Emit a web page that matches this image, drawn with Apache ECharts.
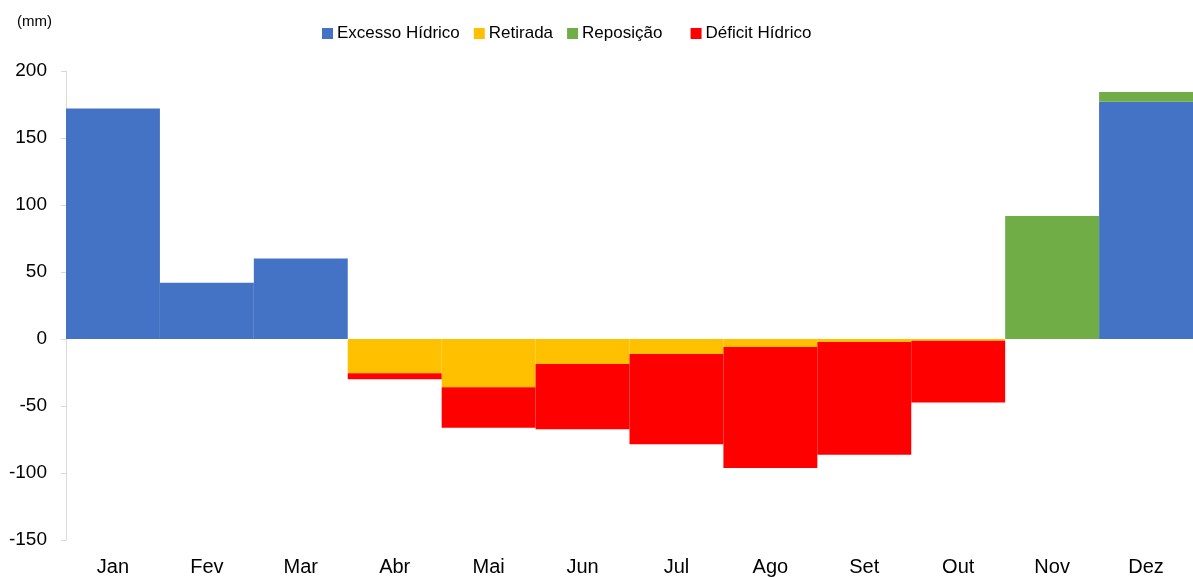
<!DOCTYPE html>
<html>
<head>
<meta charset="UTF-8">
<title>Balanço hídrico</title>
<script src="https://cdn.jsdelivr.net/npm/echarts@6/dist/echarts.min.js"></script>
<style>
html, body { margin: 0; padding: 0; background: #fff; }
#container { width: 1193px; height: 577px; }
</style>
</head>
<body>
	<div id="container"></div>
	<script type="text/javascript">
	// meses
	var months = ['Jan', 'Fev', 'Mar', 'Abr', 'Mai', 'Jun', 'Jul', 'Ago', 'Set', 'Out', 'Nov', 'Dez'];
	// valores em mm
	var excesso   = [172, 42, 60, 0, 0, 0, 0, 0, 0, 0, 0, 177];
	var retirada  = [0, 0, 0, -25.6, -36, -18.7, -11.2, -6, -2.2, -1.3, 0, 0];
	var reposicao = [0, 0, 0, 0, 0, 0, 0, 0, 0, 0, 91.8, 7.3];
	var deficit   = [0, 0, 0, -4.4, -30.2, -48.7, -67.4, -90.3, -84.1, -46, 0, 0];
	var yTicks = [-150, -100, -50, 0, 50, 100, 150, 200];

	var font = '"Liberation Sans", Arial, sans-serif';
	var dom = document.getElementById("container");
	var myChart = echarts.init(dom);

	function bar(name, data, color) {
		return {
			name: name,
			type: 'bar',
			stack: 'total',
			barWidth: '100%',
			barCategoryGap: 0,
			itemStyle: { color: color },
			data: data.map(function (v) { return v === 0 ? '-' : v; })
		};
	}

	var option = {
		animation: false,
		textStyle: { fontFamily: font },
		legend: {
			top: 25,
			left: 322,
			padding: 0,
			itemWidth: 11,
			itemHeight: 11,
			itemGap: 14,
			icon: 'rect',
			formatter: function (name) {
				// espaço extra antes do Déficit, como no original
				return name === 'Reposição' ? name + '   ' : name;
			},
			textStyle: { fontSize: 17, color: '#000', fontFamily: font, padding: [0, 0, 0, -1] },
			data: ['Excesso Hídrico', 'Retirada', 'Reposição', 'Déficit Hídrico']
		},
		grid: { left: 66, right: 0, top: 71, bottom: 37, containLabel: false },
		xAxis: {
			type: 'category',
			data: months,
			axisLine: { show: false },
			axisTick: { show: false },
			axisLabel: { fontSize: 20, color: '#000', margin: 17, fontFamily: font }
		},
		yAxis: {
			type: 'value',
			min: yTicks[0],
			max: yTicks[yTicks.length - 1],
			interval: 50,
			name: '(mm)',
			nameLocation: 'end',
			nameGap: 42,
			nameTextStyle: { fontSize: 15, color: '#000', align: 'right', padding: [0, 14, 0, 0], fontFamily: font },
			axisLine: { show: true, lineStyle: { color: '#d9d9d9', width: 1 } },
			axisTick: { show: true, length: 5, lineStyle: { color: '#d9d9d9' } },
			splitLine: { show: false },
			axisLabel: { fontSize: 19, color: '#000', margin: 19, fontFamily: font }
		},
		series: [
			bar('Excesso Hídrico', excesso, '#4472C4'),
			bar('Retirada', retirada, '#FFC000'),
			bar('Reposição', reposicao, '#70AD47'),
			bar('Déficit Hídrico', deficit, '#FF0000')
		]
	};

	myChart.setOption(option, true);
    </script>
</body>
</html>
